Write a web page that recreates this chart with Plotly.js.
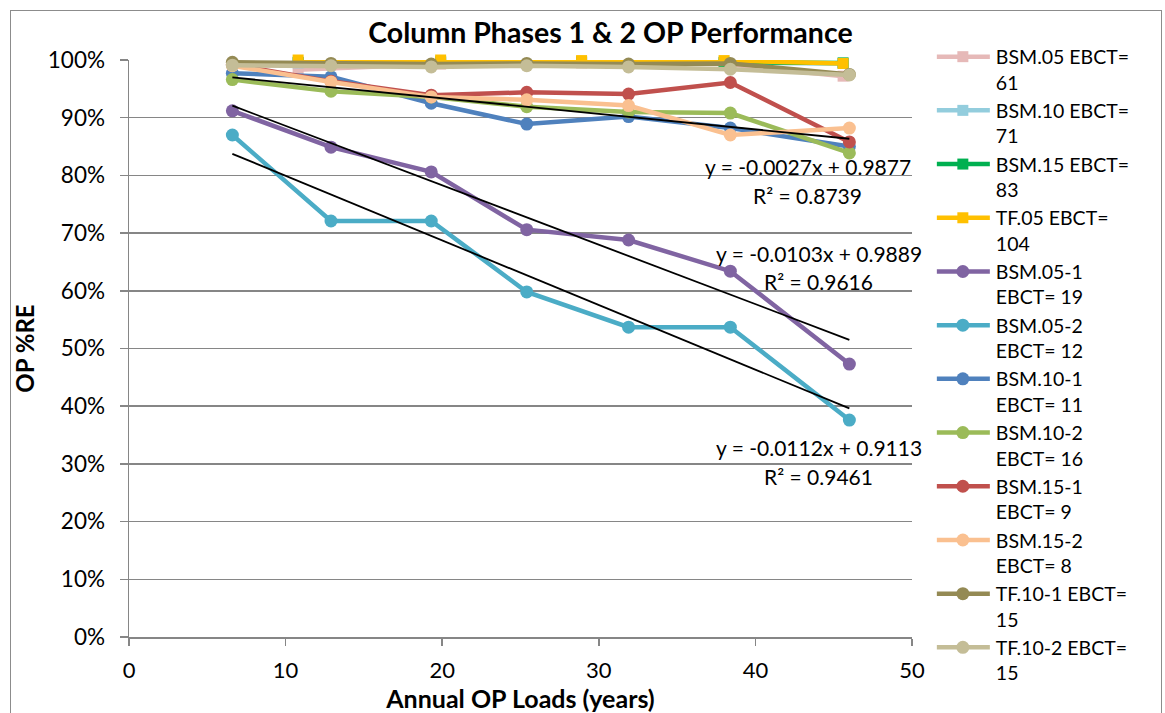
<!DOCTYPE html>
<html>
<head>
<meta charset="utf-8">
<script src="https://cdn.plot.ly/plotly-3.0.1.min.js"></script>
<style>
  html, body { margin: 0; padding: 0; background: #fff; }
  #wrap { position: relative; width: 1165px; height: 713px; overflow: hidden; }
  #frame { position: absolute; left: 10px; top: 10px; width: 1152px; height: 720px; border: 1.5px solid #8c8c8c; box-sizing: border-box; pointer-events: none; }
  #chart { position: absolute; left: 0; top: 0; width: 1165px; height: 713px; }
</style>
</head>
<body>
<div id="wrap">
  <div id="chart"></div>
  <div id="frame"></div>
</div>
<script>
// ---- data ----
const chartTitle = "Column Phases 1 & 2 OP Performance";
const xTitle = "Annual OP Loads (years)";
const yTitle = "OP %RE";

// square-marker series (x positions)
const xSquare = [10.8, 19.9, 28.9, 38.0, 45.6];
// circle-marker series (x positions)
const xCircle = [6.6, 12.9, 19.3, 25.4, 31.9, 38.4, 46.0];

const bsm05   = [0.983, 0.993, 0.995, 0.993, 0.972];
const bsm10   = [0.995, 0.996, 0.996, 0.995, 0.994];
const bsm15   = [0.996, 0.997, 0.997, 0.996, 0.995];
const tf05    = [1.000, 1.000, 0.999, 0.999, 0.994];

const bsm05_1 = [0.912, 0.849, 0.806, 0.706, 0.688, 0.634, 0.473];
const bsm05_2 = [0.870, 0.721, 0.721, 0.598, 0.537, 0.537, 0.376];
const bsm10_1 = [0.977, 0.971, 0.925, 0.889, 0.902, 0.882, 0.850];
const bsm10_2 = [0.966, 0.946, 0.936, 0.919, 0.910, 0.908, 0.839];
const bsm15_1 = [0.992, 0.963, 0.939, 0.944, 0.941, 0.961, 0.858];
const bsm15_2 = [0.990, 0.962, 0.936, 0.931, 0.921, 0.870, 0.882];
const tf10_1  = [0.996, 0.994, 0.993, 0.994, 0.993, 0.994, 0.975];
const tf10_2  = [0.991, 0.990, 0.988, 0.990, 0.988, 0.984, 0.974];

const seriesNames = [
  "BSM.05 EBCT=<br>61", "BSM.10 EBCT=<br>71", "BSM.15 EBCT=<br>83", "TF.05 EBCT=<br>104",
  "BSM.05-1<br>EBCT= 19", "BSM.05-2<br>EBCT= 12", "BSM.10-1<br>EBCT= 11", "BSM.10-2<br>EBCT= 16",
  "BSM.15-1<br>EBCT= 9", "BSM.15-2<br>EBCT= 8", "TF.10-1 EBCT=<br>15", "TF.10-2 EBCT=<br>15"
];
const seriesColors = ["#E6B9B8", "#93CDDD", "#00B050", "#FFC000", "#8064A2", "#4BACC6",
                      "#4F81BD", "#9BBB59", "#C0504D", "#FAC090", "#948A54", "#C4BD97"];

// linear trendlines (slope, intercept, R²) as printed on the chart
const trendSlopes = [-0.0027, -0.0103, -0.0112];
const trendIntercepts = [0.9877, 0.9889, 0.9113];
const trendR2 = ["0.8739", "0.9616", "0.9461"];
const trendLabelX = [43.35, 44.05, 44.05];
const trendLabelY = [0.815, 0.6655, 0.3276];

const yTickVals = [0, 0.1, 0.2, 0.3, 0.4, 0.5, 0.6, 0.7, 0.8, 0.9, 1.0];
const yTickText = ["0%", "10%", "20%", "30%", "40%", "50%", "60%", "70%", "80%", "90%", "100%"];
const xTickVals = [0, 10, 20, 30, 40, 50];

// ---- build traces ----
const FONT = "Lato, 'Open Sans', sans-serif";
const squareSets = [bsm05, bsm10, bsm15, tf05];
const circleSets = [bsm05_1, bsm05_2, bsm10_1, bsm10_2, bsm15_1, bsm15_2, tf10_1, tf10_2];
const traces = [];
squareSets.forEach((ys, i) => {
  traces.push({
    type: "scatter", mode: "lines+markers", x: xSquare, y: ys, name: seriesNames[i],
    line: { color: seriesColors[i], width: 4.5 },
    marker: { symbol: "square", size: 11, color: seriesColors[i] },
    cliponaxis: false
  });
});
circleSets.forEach((ys, j) => {
  const i = j + 4;
  traces.push({
    type: "scatter", mode: "lines+markers", x: xCircle, y: ys, name: seriesNames[i],
    line: { color: seriesColors[i], width: 4.5 },
    marker: { symbol: "circle", size: 13, color: seriesColors[i] },
    cliponaxis: false
  });
});
const xt0 = xCircle[0], xt1 = xCircle[xCircle.length - 1];
trendSlopes.forEach((m, k) => {
  const b = trendIntercepts[k];
  traces.push({
    type: "scatter", mode: "lines", x: [xt0, xt1], y: [m * xt0 + b, m * xt1 + b],
    line: { color: "#000000", width: 1.8 }, showlegend: false, hoverinfo: "skip"
  });
});

const annotations = [];
trendSlopes.forEach((m, k) => {
  const b = trendIntercepts[k];
  annotations.push({
    xref: "x", yref: "y", x: trendLabelX[k], y: trendLabelY[k], showarrow: false,
    text: "y = " + m.toFixed(4) + "x + " + b.toFixed(4),
    font: { family: FONT, size: 21, color: "#000" }, xanchor: "center", yanchor: "middle"
  });
  annotations.push({
    xref: "x", yref: "y", x: trendLabelX[k], y: trendLabelY[k] - 0.049, showarrow: false,
    text: "R² = " + trendR2[k],
    font: { family: FONT, size: 21, color: "#000" }, xanchor: "center", yanchor: "middle"
  });
});

const layout = {
  width: 1165, height: 713,
  paper_bgcolor: "rgba(0,0,0,0)", plot_bgcolor: "#fff",
  margin: { l: 129, r: 253, t: 60, b: 76, pad: 0 },
  font: { family: FONT, size: 20, color: "#000" },
  title: {
    text: "<b>" + chartTitle + "</b>", font: { family: FONT, size: 28.5, color: "#000" },
    x: 0.524, xanchor: "center", y: 0.954, yanchor: "middle"
  },
  xaxis: {
    range: [0, 50], tickvals: xTickVals, ticks: "outside", ticklen: 7, tickcolor: "#868686", tickwidth: 1.5,
    showline: true, linecolor: "#868686", linewidth: 1.5, showgrid: false, zeroline: false,
    tickfont: { family: FONT, size: 22 }, ticklabelstandoff: 6,
    title: { text: "<b>" + xTitle + "</b>", font: { family: FONT, size: 25 }, standoff: 1 }
  },
  yaxis: {
    range: [0, 1], tickvals: yTickVals, ticktext: yTickText, ticks: "outside", ticklen: 8,
    tickcolor: "#868686", tickwidth: 1.5, ticklabelstandoff: 10,
    showline: true, linecolor: "#868686", linewidth: 1.5, showgrid: true, gridcolor: "#868686", gridwidth: 1.5,
    zeroline: false, tickfont: { family: FONT, size: 22.5 },
    title: { text: "<b>" + yTitle + "</b>", font: { family: FONT, size: 24 }, standoff: 6 }
  },
  legend: {
    x: 1.056, xanchor: "left", y: 1.039, yanchor: "top", valign: "top",
    font: { family: FONT, size: 19.5, color: "#000" }, maxheight: 700,
    bgcolor: "rgba(0,0,0,0)", tracegroupgap: 0
  },
  annotations: annotations,
  showlegend: true
};

Plotly.newPlot("chart", traces, layout, { displayModeBar: false, staticPlot: true }).then(gd => {
  // let the legend sample lines extend past the legend box, as in the reference
  gd.querySelectorAll(".legend .scrollbox, .legend").forEach(el => el.removeAttribute("clip-path"));
  gd.querySelectorAll(".legend .traces").forEach(g => {
    const t = g.querySelector("text.legendtext");
    if (!t) return;
    const tx = parseFloat(t.getAttribute("x")) || 40;
    g.querySelectorAll(".legendlines path").forEach(p => p.setAttribute("d", "M" + (tx - 59) + ",0h53"));
    g.querySelectorAll(".legendpoints path").forEach(p => p.setAttribute("transform", "translate(" + (tx - 33) + ",0)"));
  });
});
</script>
</body>
</html>
